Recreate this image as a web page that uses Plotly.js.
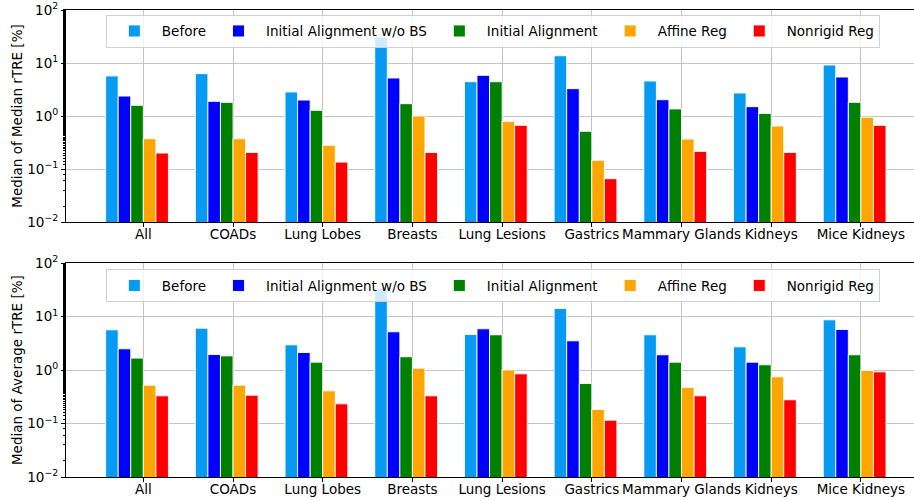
<!DOCTYPE html>
<html><head><meta charset="utf-8">
<script src="https://cdn.plot.ly/plotly-3.0.1.min.js"></script>
<style>body{margin:0;background:#fff}</style>
</head><body><div id="chart" style="width:914px;height:500px"></div>
<script>
const categories = ['All','COADs','Lung Lobes','Breasts','Lung Lesions','Gastrics','Mammary Glands','Kidneys','Mice Kidneys'];
const seriesNames = ['Before','Initial Alignment w/o BS','Initial Alignment','Affine Reg','Nonrigid Reg'];
const seriesColors = ['#069af3','#0000ff','#008000','#ffa500','#ff0000'];
const medianBefore    = [5.7, 6.3, 2.84, 31, 4.44, 13.7, 4.57, 2.72, 9.17];
const medianInitNoBS  = [2.38, 1.89, 2.0, 5.21, 5.85, 3.28, 2.03, 1.50, 5.44];
const medianInit      = [1.59, 1.81, 1.28, 1.71, 4.44, 0.514, 1.36, 1.12, 1.81];
const medianAffine    = [0.373, 0.373, 0.28, 1.0, 0.79, 0.146, 0.368, 0.647, 0.944];
const medianNonrigid  = [0.20, 0.206, 0.135, 0.206, 0.667, 0.0657, 0.215, 0.206, 0.667];
const averageBefore   = [5.69, 6.11, 2.98, 34, 4.65, 14.3, 4.59, 2.73, 8.75];
const averageInitNoBS = [2.51, 1.96, 2.14, 5.22, 5.94, 3.54, 1.94, 1.41, 5.77];
const averageInit     = [1.68, 1.85, 1.41, 1.78, 4.59, 0.563, 1.41, 1.26, 1.94];
const averageAffine   = [0.524, 0.524, 0.41, 1.09, 1.01, 0.184, 0.474, 0.75, 0.986];
const averageNonrigid = [0.331, 0.340, 0.234, 0.331, 0.854, 0.116, 0.331, 0.279, 0.93];
const yTickVals = [0.01, 0.1, 1, 10, 100];
const yTickText = ['10<sup>−2</sup>','10<sup>−1</sup>','10<sup>0</sup>','10<sup>1</sup>','10<sup>2</sup>'];

const medianSeries = [medianBefore, medianInitNoBS, medianInit, medianAffine, medianNonrigid];
const averageSeries = [averageBefore, averageInitNoBS, averageInit, averageAffine, averageNonrigid];

const barStep = 0.14;
const traces = [];
function addTraces(seriesList, xa, ya, legendId) {
  seriesList.forEach((vals, i) => {
    traces.push({
      type: 'bar', x: categories, y: vals, name: seriesNames[i],
      xaxis: xa, yaxis: ya, legend: legendId,
      offset: (i - 3) * barStep, width: barStep,
      marker: {color: seriesColors[i], line: {color: 'rgba(255,255,255,0.9)', width: 1}},
      hoverinfo: 'x+y+name'
    });
  });
}
addTraces(medianSeries, 'x', 'y', 'legend');
addTraces(averageSeries, 'x2', 'y2', 'legend2');

const font = {family: 'DejaVu Sans, sans-serif', size: 13.5, color: '#000'};
const xRange = [-0.862, 8.592];
function xAxis(anchor) {
  return {
    anchor: anchor, type: 'category', range: xRange,
    showline: true, linecolor: '#000', linewidth: 1, mirror: true,
    ticks: 'outside', ticklen: 4, tickcolor: '#000', ticklabelstandoff: -4,
    showgrid: true, gridcolor: '#c4c4c4', gridwidth: 1,
    tickfont: font, zeroline: false, fixedrange: true
  };
}
function yAxis(anchor, domain, title) {
  return {
    anchor: anchor, domain: domain, type: 'log', range: [-2, 2],
    tickmode: 'array', tickvals: yTickVals, ticktext: yTickText,
    showline: true, linecolor: '#000', linewidth: 1, mirror: false,
    ticks: 'outside', ticklen: 4, tickcolor: '#000',
    minor: {ticks: 'outside', ticklen: 2, tickcolor: '#000', showgrid: false},
    showgrid: true, gridcolor: '#c4c4c4', gridwidth: 1,
    tickfont: font, zeroline: false,
    title: {text: title, font: font, standoff: 1}
  };
}
const legendBase = {
  orientation: 'h', xanchor: 'left', yanchor: 'top',
  bgcolor: 'rgba(255,255,255,0.8)', bordercolor: '#d0d0d0', borderwidth: 1,
  font: font, itemwidth: 45, traceorder: 'normal'
};
const layout = {
  width: 914, height: 500,
  margin: {l: 66, r: 0, t: 10, b: 23},
  paper_bgcolor: '#fff', plot_bgcolor: '#fff',
  barmode: 'overlay', showlegend: true, font: font,
  xaxis: xAxis('y'),
  yaxis: yAxis('x', [0.546, 1], 'Median of Median rTRE [%]'),
  xaxis2: xAxis('y2'),
  yaxis2: yAxis('x2', [0, 0.4576], 'Median of Average rTRE [%]'),
  legend: Object.assign({}, legendBase, {x: 0.047, y: 0.99}),
  legend2: Object.assign({}, legendBase, {x: 0.047, y: 0.445})
};
Plotly.newPlot('chart', traces, layout, {displayModeBar: false, staticPlot: true});
</script>
</body></html>
